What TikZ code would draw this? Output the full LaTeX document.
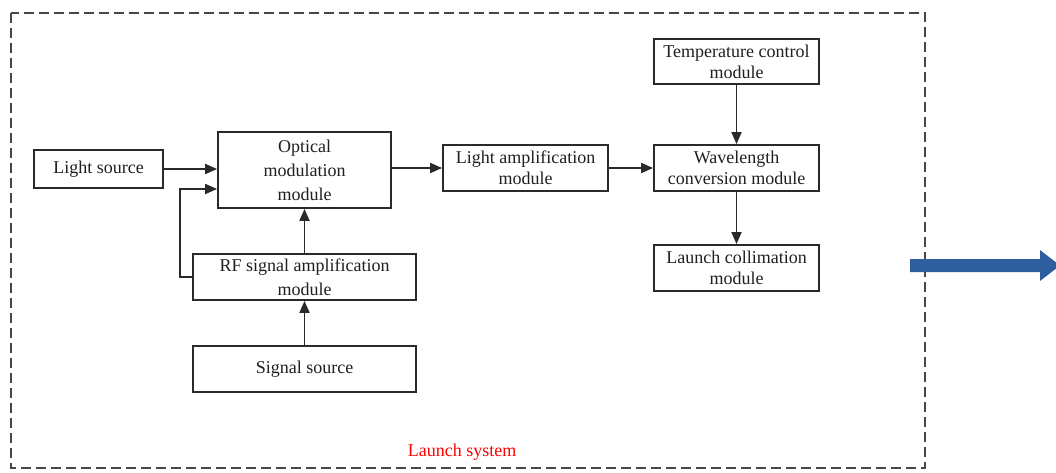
\documentclass[tikz,border=0pt]{standalone}
\usepackage{fontspec}
\setmainfont{Liberation Serif}
\usetikzlibrary{arrows.meta}
\definecolor{linegray}{HTML}{2A2A2A}
\definecolor{arrowblue}{HTML}{2F5E9F}
\tikzset{
  box/.style={draw=linegray, line width=1.8pt, rectangle, align=center, inner sep=0pt,
    font=\fontsize{18}{21}\selectfont, text=black!88},
  arr/.style={draw=linegray, line width=1.8pt, -{Triangle[length=12pt,width=10pt]}},
  frame/.style={draw=black!72, line width=1.8pt, dash pattern=on 10pt off 5pt},
}
\begin{document}
\begin{tikzpicture}[x=1pt,y=-1pt]
\useasboundingbox (0,0) rectangle (1056,473);
\draw[frame] (11,13) rectangle (925,468);

\node[box, minimum width=129pt, minimum height=38pt] (ls) at (98.5,169) {Light source};
\node[box, minimum width=173pt, minimum height=76pt, font=\fontsize{18}{24}\selectfont] (om) at (304.5,170) {Optical\\modulation\\module};
\node[box, minimum width=165pt, minimum height=46pt] (la) at (525.5,168) {Light amplification\\module};
\node[box, minimum width=165pt, minimum height=45pt] (tc) at (736.5,61.5) {Temperature control\\module};
\node[box, minimum width=165pt, minimum height=46pt] (wc) at (736.5,168) {Wavelength\\conversion module};
\node[box, minimum width=165pt, minimum height=46pt] (lc) at (736.5,268) {Launch collimation\\module};
\node[box, minimum width=223pt, minimum height=46pt, font=\fontsize{18}{24}\selectfont] (rf) at (304.5,277) {RF signal amplification\\module};
\node[box, minimum width=223pt, minimum height=46pt] (ss) at (304.5,369) {Signal source};

\node[text=red, font=\fontsize{18}{21}\selectfont, inner sep=0pt] (lsys) at (462,452) {Launch system};

\draw[arr] (ls.east) -- (ls.east -| om.west);
\coordinate (fb) at (180,189);
\draw[arr] (rf.west) -| (fb) -- (fb -| om.west);
\draw[arr] (rf.north) -- (om.south);
\draw[arr] (ss.north) -- (rf.south);
\draw[arr] (om.east |- la.west) -- (la.west);
\draw[arr] (la.east) -- (wc.west);
\draw[arr] (tc.south) -- (wc.north);
\draw[arr] (wc.south) -- (lc.north);

\fill[arrowblue] (910,259) -- (1040,259) -- (1040,250) -- (1060,265.5) -- (1040,281) -- (1040,272) -- (910,272) -- cycle;
\end{tikzpicture}
\end{document}
